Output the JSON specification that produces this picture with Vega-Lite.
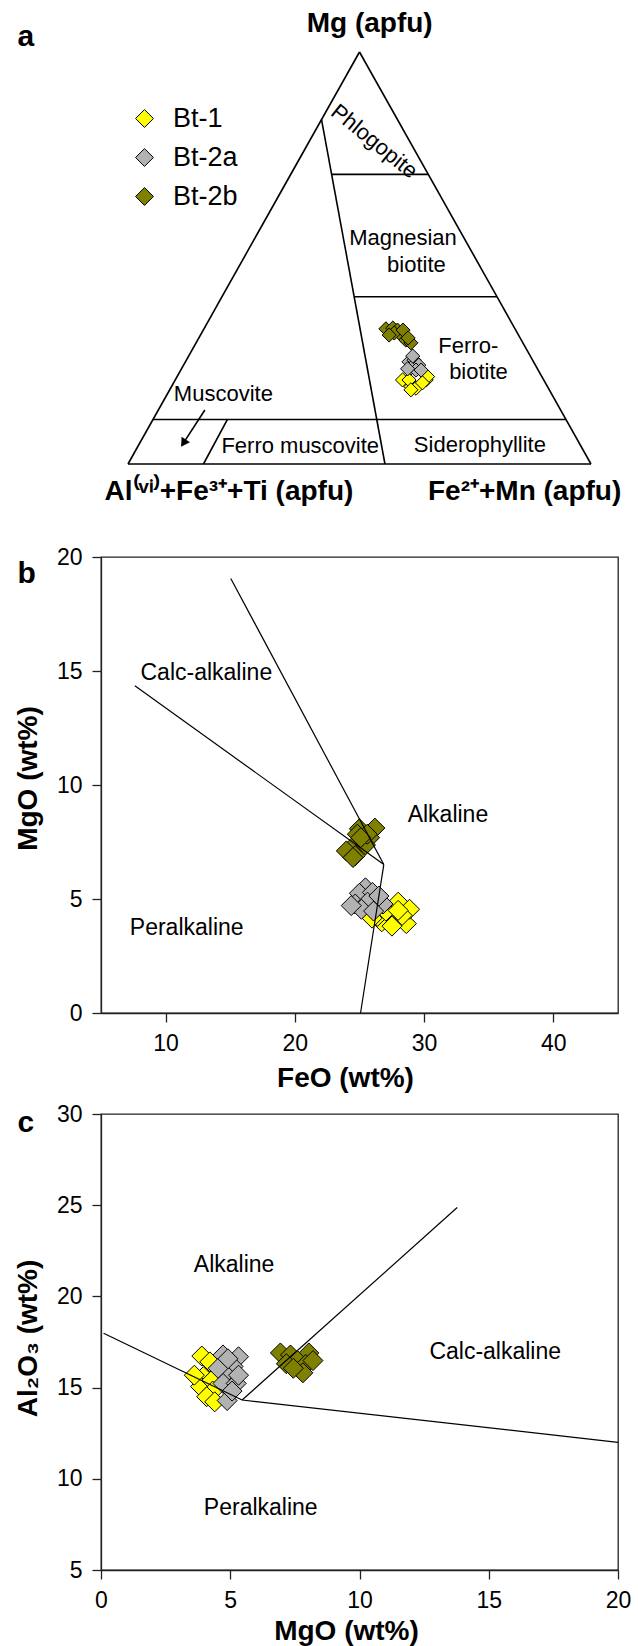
{
  "$schema": "https://vega.github.io/schema/vega-lite/v6.json",
  "padding": {"left": 13, "top": 0, "right": 0, "bottom": 0},
  "spacing": 101,
  "bounds": "flush",
  "config": {
    "font": "Liberation Sans",
    "axis": {
      "labelFont": "Liberation Sans", "labelFontSize": 23, "labelColor": "black",
      "titleFont": "Liberation Sans", "titleFontSize": 28, "titleFontWeight": "bold", "titleColor": "black",
      "domainColor": "#222", "domainWidth": 1.3, "tickColor": "#222", "tickWidth": 1.3, "tickSize": 9,
      "labelPadding": 10, "grid": false, "labelFlush": false, "labelOverlap": false
    },
    "text": {"font": "Liberation Sans", "color": "black"}
  },
  "datasets": {
    "a_lines": [
      {"u": 0, "v": 0, "u2": 1, "v2": 0},
      {"u": 0, "v": 0, "u2": 0.5, "v2": 1},
      {"u": 1, "v": 0, "u2": 0.5, "v2": 1},
      {"u": 0.418, "v": 0.836, "u2": 0.555, "v2": 0},
      {"u": 0.4398, "v": 0.703, "u2": 0.6485, "v2": 0.703},
      {"u": 0.4885, "v": 0.406, "u2": 0.797, "v2": 0.406},
      {"u": 0.054, "v": 0.108, "u2": 0.946, "v2": 0.108},
      {"u": 0.2145, "v": 0.108, "u2": 0.163, "v2": 0},
      {"u": 0.166, "v": 0.131, "u2": 0.121, "v2": 0.053}
    ],
    "a_arrowhead": [{"u": 0.1197, "v": 0.0505}],
    "a_points": [
      {"type": "Bt-1", "u": 0.593, "v": 0.204},
      {"type": "Bt-1", "u": 0.611, "v": 0.188},
      {"type": "Bt-1", "u": 0.622, "v": 0.184},
      {"type": "Bt-1", "u": 0.644, "v": 0.204},
      {"type": "Bt-1", "u": 0.647, "v": 0.212},
      {"type": "Bt-1", "u": 0.636, "v": 0.197},
      {"type": "Bt-1", "u": 0.607, "v": 0.204},
      {"type": "Bt-1", "u": 0.611, "v": 0.180},
      {"type": "Bt-2a", "u": 0.607, "v": 0.248},
      {"type": "Bt-2a", "u": 0.618, "v": 0.252},
      {"type": "Bt-2a", "u": 0.628, "v": 0.240},
      {"type": "Bt-2a", "u": 0.611, "v": 0.233},
      {"type": "Bt-2a", "u": 0.622, "v": 0.228},
      {"type": "Bt-2a", "u": 0.633, "v": 0.228},
      {"type": "Bt-2a", "u": 0.604, "v": 0.231},
      {"type": "Bt-2a", "u": 0.615, "v": 0.262},
      {"type": "Bt-2b", "u": 0.557, "v": 0.328},
      {"type": "Bt-2b", "u": 0.572, "v": 0.330},
      {"type": "Bt-2b", "u": 0.582, "v": 0.325},
      {"type": "Bt-2b", "u": 0.590, "v": 0.313},
      {"type": "Bt-2b", "u": 0.600, "v": 0.301},
      {"type": "Bt-2b", "u": 0.611, "v": 0.294},
      {"type": "Bt-2b", "u": 0.575, "v": 0.318},
      {"type": "Bt-2b", "u": 0.564, "v": 0.313},
      {"type": "Bt-2b", "u": 0.594, "v": 0.325},
      {"type": "Bt-2b", "u": 0.605, "v": 0.306}
    ],
    "a_labels": [
      {"label": "Magnesian", "u": 0.594, "v": 0.549},
      {"label": "biotite", "u": 0.623, "v": 0.482},
      {"label": "Ferro-", "u": 0.735, "v": 0.287},
      {"label": "biotite", "u": 0.757, "v": 0.224},
      {"label": "Muscovite", "u": 0.206, "v": 0.169},
      {"label": "Ferro muscovite", "u": 0.372, "v": 0.043},
      {"label": "Siderophyllite", "u": 0.76, "v": 0.0455}
    ],
    "a_phlog": [{"label": "Phlogopite", "u": 0.532, "v": 0.783}],
    "a_titles": [
      {"label": "Mg (apfu)", "u": 0.522, "v": 1.0675},
      {"label": "Al⁽ᵛⁱ⁾+Fe³⁺+Ti (apfu)", "u": 0.218, "v": -0.068},
      {"label": "Fe²⁺+Mn (apfu)", "u": 0.8566, "v": -0.068}
    ],
    "a_panel": [{"label": "a", "u": -0.2387, "v": 1.0146}],
    "b_points": [
      {"type": "Bt-1", "FeO": 27.99, "MgO": 4.86},
      {"type": "Bt-1", "FeO": 28.62, "MgO": 3.92},
      {"type": "Bt-1", "FeO": 28.87, "MgO": 4.55},
      {"type": "Bt-1", "FeO": 27.36, "MgO": 4.31},
      {"type": "Bt-1", "FeO": 26.72, "MgO": 4.0},
      {"type": "Bt-1", "FeO": 27.51, "MgO": 3.81},
      {"type": "Bt-1", "FeO": 28.3, "MgO": 4.28},
      {"type": "Bt-1", "FeO": 26.4, "MgO": 4.24},
      {"type": "Bt-1", "FeO": 27.04, "MgO": 4.47},
      {"type": "Bt-1", "FeO": 27.99, "MgO": 4.5},
      {"type": "Bt-1", "FeO": 25.97, "MgO": 4.16},
      {"type": "Bt-2a", "FeO": 25.46, "MgO": 5.49},
      {"type": "Bt-2a", "FeO": 24.99, "MgO": 5.25},
      {"type": "Bt-2a", "FeO": 26.0, "MgO": 5.29},
      {"type": "Bt-2a", "FeO": 24.67, "MgO": 4.78},
      {"type": "Bt-2a", "FeO": 25.62, "MgO": 4.86},
      {"type": "Bt-2a", "FeO": 26.82, "MgO": 4.78},
      {"type": "Bt-2a", "FeO": 25.15, "MgO": 4.55},
      {"type": "Bt-2a", "FeO": 26.09, "MgO": 4.47},
      {"type": "Bt-2a", "FeO": 26.5, "MgO": 5.13},
      {"type": "Bt-2a", "FeO": 24.36, "MgO": 4.71},
      {"type": "Bt-2b", "FeO": 24.99, "MgO": 8.08},
      {"type": "Bt-2b", "FeO": 24.83, "MgO": 7.84},
      {"type": "Bt-2b", "FeO": 26.19, "MgO": 8.11},
      {"type": "Bt-2b", "FeO": 25.78, "MgO": 7.69},
      {"type": "Bt-2b", "FeO": 24.99, "MgO": 7.45},
      {"type": "Bt-2b", "FeO": 24.36, "MgO": 7.22},
      {"type": "Bt-2b", "FeO": 23.98, "MgO": 7.11},
      {"type": "Bt-2b", "FeO": 24.67, "MgO": 6.9},
      {"type": "Bt-2b", "FeO": 25.46, "MgO": 7.37},
      {"type": "Bt-2b", "FeO": 24.5, "MgO": 6.82},
      {"type": "Bt-2b", "FeO": 25.6, "MgO": 7.84},
      {"type": "Bt-2b", "FeO": 25.1, "MgO": 7.69}
    ],
    "b_lines": [
      {"FeO": 15.04, "MgO": 19.06, "FeO_end": 26.88, "MgO_end": 6.51},
      {"FeO": 26.88, "MgO": 6.51, "FeO_end": 25.08, "MgO_end": 0},
      {"FeO": 7.62, "MgO": 14.35, "FeO_end": 26.88, "MgO_end": 6.51}
    ],
    "b_labels": [
      {"label": "Calc-alkaline", "FeO": 13.15, "MgO": 14.93},
      {"label": "Alkaline", "FeO": 31.84, "MgO": 8.67},
      {"label": "Peralkaline", "FeO": 11.63, "MgO": 3.72}
    ],
    "b_panel": [{"label": "b", "FeO": -1.46, "MgO": 18.86}],
    "c_points": [
      {"type": "Bt-1", "MgO": 3.9, "Al2O3": 16.73},
      {"type": "Bt-1", "MgO": 4.21, "Al2O3": 16.41},
      {"type": "Bt-1", "MgO": 3.96, "Al2O3": 15.6},
      {"type": "Bt-1", "MgO": 3.85, "Al2O3": 15.06},
      {"type": "Bt-1", "MgO": 4.28, "Al2O3": 15.39},
      {"type": "Bt-1", "MgO": 4.32, "Al2O3": 14.81},
      {"type": "Bt-1", "MgO": 4.09, "Al2O3": 14.5},
      {"type": "Bt-1", "MgO": 4.4, "Al2O3": 14.22},
      {"type": "Bt-1", "MgO": 3.61, "Al2O3": 15.68},
      {"type": "Bt-2a", "MgO": 4.72, "Al2O3": 16.79},
      {"type": "Bt-2a", "MgO": 5.32, "Al2O3": 16.69},
      {"type": "Bt-2a", "MgO": 5.11, "Al2O3": 16.16},
      {"type": "Bt-2a", "MgO": 4.8, "Al2O3": 15.75},
      {"type": "Bt-2a", "MgO": 4.72, "Al2O3": 15.23},
      {"type": "Bt-2a", "MgO": 5.23, "Al2O3": 15.23},
      {"type": "Bt-2a", "MgO": 4.88, "Al2O3": 14.29},
      {"type": "Bt-2a", "MgO": 5.32, "Al2O3": 15.68},
      {"type": "Bt-2a", "MgO": 4.53, "Al2O3": 16.06},
      {"type": "Bt-2a", "MgO": 5.07, "Al2O3": 14.81},
      {"type": "Bt-2a", "MgO": 4.91, "Al2O3": 16.58},
      {"type": "Bt-2b", "MgO": 6.94, "Al2O3": 16.9},
      {"type": "Bt-2b", "MgO": 7.33, "Al2O3": 16.79},
      {"type": "Bt-2b", "MgO": 8.04, "Al2O3": 16.9},
      {"type": "Bt-2b", "MgO": 7.6, "Al2O3": 16.48},
      {"type": "Bt-2b", "MgO": 7.92, "Al2O3": 16.27},
      {"type": "Bt-2b", "MgO": 7.17, "Al2O3": 16.31},
      {"type": "Bt-2b", "MgO": 8.2, "Al2O3": 16.48},
      {"type": "Bt-2b", "MgO": 7.81, "Al2O3": 15.81},
      {"type": "Bt-2b", "MgO": 7.44, "Al2O3": 16.06}
    ],
    "c_lines": [
      {"MgO": 0.1, "Al2O3": 17.98, "MgO_end": 5.46, "Al2O3_end": 14.32},
      {"MgO": 5.46, "Al2O3": 14.32, "MgO_end": 20, "Al2O3_end": 12},
      {"MgO": 5.46, "Al2O3": 14.32, "MgO_end": 13.78, "Al2O3_end": 24.87}
    ],
    "c_labels": [
      {"label": "Alkaline", "MgO": 5.15, "Al2O3": 21.7},
      {"label": "Calc-alkaline", "MgO": 15.25, "Al2O3": 16.94},
      {"label": "Peralkaline", "MgO": 6.18, "Al2O3": 8.4}
    ],
    "c_panel": [{"label": "c", "MgO": -3.23, "Al2O3": 29.03}]
  },
  "vconcat": [
    {
      "width": 517,
      "height": 456,
      "view": {"stroke": null},
      "encoding": {
        "x": {"field": "u", "type": "quantitative", "scale": {"domain": [-0.058315, 1.058315], "nice": false, "zero": false}, "axis": null},
        "y": {"field": "v", "type": "quantitative", "scale": {"domain": [0.019417, 1.126214], "nice": false, "zero": false}, "axis": null}
      },
      "layer": [
        {
          "data": {"name": "a_lines"},
          "mark": {"type": "rule", "color": "black", "strokeWidth": 1.6},
          "encoding": {"x2": {"field": "u2"}, "y2": {"field": "v2"}}
        },
        {
          "data": {"name": "a_arrowhead"},
          "mark": {"type": "point", "shape": "triangle-down", "angle": 33, "filled": true, "color": "black", "opacity": 1, "size": 100}
        },
        {
          "data": {"name": "a_points"},
          "mark": {"type": "point", "shape": "diamond", "filled": true, "stroke": "black", "strokeWidth": 1, "opacity": 1, "size": 200},
          "encoding": {
            "color": {
              "field": "type", "type": "nominal",
              "scale": {"domain": ["Bt-1", "Bt-2a", "Bt-2b"], "range": ["#FFFF00", "#B2B2B2", "#7F7F00"]},
              "legend": {
                "orient": "none", "legendX": 30, "legendY": 105, "title": null,
                "symbolType": "diamond", "symbolSize": 320, "symbolStrokeColor": "black", "symbolStrokeWidth": 1,
                "labelFontSize": 27, "labelFont": "Liberation Sans", "labelColor": "black",
                "labelOffset": 15, "rowPadding": 11, "padding": 0
              }
            }
          }
        },
        {
          "data": {"name": "a_labels"},
          "mark": {"type": "text", "fontSize": 22, "align": "center", "baseline": "middle"},
          "encoding": {"text": {"field": "label"}}
        },
        {
          "data": {"name": "a_phlog"},
          "mark": {"type": "text", "fontSize": 22, "align": "center", "baseline": "middle", "angle": 39},
          "encoding": {"text": {"field": "label"}}
        },
        {
          "data": {"name": "a_titles"},
          "mark": {"type": "text", "fontSize": 28, "fontWeight": "bold", "align": "center", "baseline": "middle"},
          "encoding": {"text": {"field": "label"}}
        },
        {
          "data": {"name": "a_panel"},
          "mark": {"type": "text", "fontSize": 30, "fontWeight": "bold", "align": "left", "baseline": "alphabetic"},
          "encoding": {"text": {"field": "label"}}
        }
      ]
    },
    {
      "width": 517,
      "height": 456,
      "view": {"stroke": "#222", "strokeWidth": 1.3},
      "encoding": {
        "x": {"field": "FeO", "type": "quantitative", "scale": {"domain": [5, 45], "nice": false, "zero": false},
              "axis": {"values": [10, 20, 30, 40], "title": "FeO (wt%)", "titleX": 244, "titleY": 51}},
        "y": {"field": "MgO", "type": "quantitative", "scale": {"domain": [0, 20], "nice": false, "zero": false},
              "axis": {"values": [0, 5, 10, 15, 20], "title": "MgO (wt%)", "titleX": -73, "titleY": 221, "titleBaseline": "middle"}}
      },
      "layer": [
        {
          "data": {"name": "b_points"},
          "mark": {"type": "point", "shape": "diamond", "filled": true, "stroke": "black", "strokeWidth": 1, "opacity": 1, "size": 400},
          "encoding": {
            "color": {"field": "type", "type": "nominal",
              "scale": {"domain": ["Bt-1", "Bt-2a", "Bt-2b"], "range": ["#FFFF00", "#B2B2B2", "#7F7F00"]},
              "legend": null}
          }
        },
        {
          "data": {"name": "b_lines"},
          "mark": {"type": "rule", "color": "black", "strokeWidth": 1.2},
          "encoding": {"x2": {"field": "FeO_end"}, "y2": {"field": "MgO_end"}}
        },
        {
          "data": {"name": "b_labels"},
          "mark": {"type": "text", "fontSize": 23, "align": "center", "baseline": "middle"},
          "encoding": {"text": {"field": "label"}}
        },
        {
          "data": {"name": "b_panel"},
          "mark": {"type": "text", "fontSize": 30, "fontWeight": "bold", "align": "left", "baseline": "alphabetic"},
          "encoding": {"text": {"field": "label"}}
        }
      ]
    },
    {
      "width": 517,
      "height": 456,
      "view": {"stroke": "#222", "strokeWidth": 1.3},
      "encoding": {
        "x": {"field": "MgO", "type": "quantitative", "scale": {"domain": [0, 20], "nice": false, "zero": false},
              "axis": {"values": [0, 5, 10, 15, 20], "title": "MgO (wt%)", "titleX": 245, "titleY": 47}},
        "y": {"field": "Al2O3", "type": "quantitative", "scale": {"domain": [5, 30], "nice": false, "zero": false},
              "axis": {"values": [5, 10, 15, 20, 25, 30], "title": "Al₂O₃ (wt%)", "titleX": -73, "titleY": 224, "titleBaseline": "middle"}}
      },
      "layer": [
        {
          "data": {"name": "c_points"},
          "mark": {"type": "point", "shape": "diamond", "filled": true, "stroke": "black", "strokeWidth": 1, "opacity": 1, "size": 400},
          "encoding": {
            "color": {"field": "type", "type": "nominal",
              "scale": {"domain": ["Bt-1", "Bt-2a", "Bt-2b"], "range": ["#FFFF00", "#B2B2B2", "#7F7F00"]},
              "legend": null}
          }
        },
        {
          "data": {"name": "c_lines"},
          "mark": {"type": "rule", "color": "black", "strokeWidth": 1.2},
          "encoding": {"x2": {"field": "MgO_end"}, "y2": {"field": "Al2O3_end"}}
        },
        {
          "data": {"name": "c_labels"},
          "mark": {"type": "text", "fontSize": 23, "align": "center", "baseline": "middle"},
          "encoding": {"text": {"field": "label"}}
        },
        {
          "data": {"name": "c_panel"},
          "mark": {"type": "text", "fontSize": 30, "fontWeight": "bold", "align": "left", "baseline": "alphabetic"},
          "encoding": {"text": {"field": "label"}}
        }
      ]
    }
  ]
}
